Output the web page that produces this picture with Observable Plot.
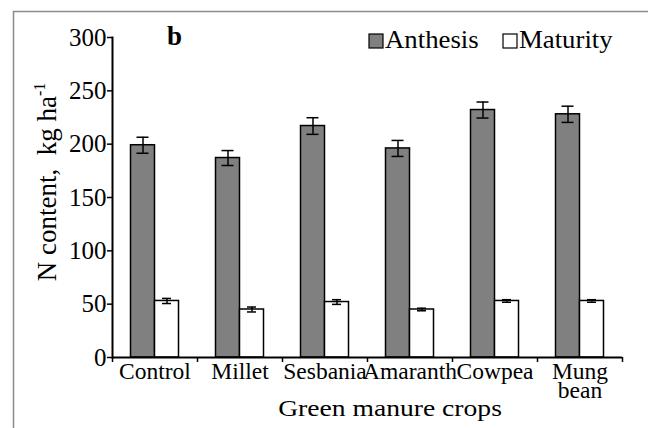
<!DOCTYPE html>
<html>
<head>
<meta charset="utf-8">
<script src="https://cdn.jsdelivr.net/npm/d3@7"></script>
<script src="https://cdn.jsdelivr.net/npm/@observablehq/plot@0.6"></script>
<style>
  html, body { margin: 0; padding: 0; background: #fff; }
  #chart { width: 648px; height: 428px; }
  #chart svg, #chart svg text, #chart svg tspan { font-family: 'Liberation Serif', serif !important; }
</style>
</head>
<body>
<div id="chart"></div>
<script>
// ---- data ----
const crops = ["Control", "Millet", "Sesbania", "Amaranth", "Cowpea", "Mung bean"];
const anthesis = [199, 187, 217, 196, 232, 228];
const anthesisErr = [7.5, 7, 7.8, 7.5, 7.5, 7.6];
const maturity = [53, 45, 52, 45, 53, 53];
const maturityErr = [2.4, 2.3, 2.2, 1.2, 1.2, 1.2];
const yTicks = [0, 50, 100, 150, 200, 250, 300];
const seriesNames = ["Anthesis", "Maturity"];

const rowsA = crops.map((c, i) => ({crop: c, value: anthesis[i], lo: anthesis[i] - anthesisErr[i], hi: anthesis[i] + anthesisErr[i]}));
const rowsM = crops.map((c, i) => ({crop: c, value: maturity[i], lo: maturity[i] - maturityErr[i], hi: maturity[i] + maturityErr[i]}));

const W = 648, H = 428;
const mL = 112, mR = 26, mT = 37, mB = 71;
const band = (W - mL - mR) / crops.length; // 85
const barW = 24, gapL = 18.5;
const aIL = gapL, aIR = band - gapL - barW;
const mIL = gapL + barW, mIR = band - gapL - 2 * barW;
const aDx = gapL + barW / 2 - band / 2;
const mDx = gapL + barW * 1.5 - band / 2;
const capA = 6, capM = 4.5;
const ff = "'Liberation Serif', serif";

const plot = Plot.plot({
  width: W, height: H,
  marginLeft: mL, marginRight: mR, marginTop: mT, marginBottom: mB,
  style: "font-family: 'Liberation Serif', serif; color: black; background: white;",
  x: {type: "band", domain: crops, paddingInner: 0, paddingOuter: 0},
  y: {domain: [0, 300]},
  marks: [
    Plot.barY(rowsA, {x: "crop", y: "value", fill: "#808080", stroke: "black", strokeWidth: 1.5, insetLeft: aIL, insetRight: aIR}),
    Plot.barY(rowsM, {x: "crop", y: "value", fill: "white", stroke: "black", strokeWidth: 1.5, insetLeft: mIL, insetRight: mIR}),
    Plot.ruleX(rowsA, {x: "crop", y1: "lo", y2: "hi", dx: aDx, stroke: "black", strokeWidth: 1.5}),
    Plot.tickY(rowsA, {x: "crop", y: "lo", stroke: "black", strokeWidth: 1.5, insetLeft: band / 2 + aDx - capA, insetRight: band / 2 - aDx - capA}),
    Plot.tickY(rowsA, {x: "crop", y: "hi", stroke: "black", strokeWidth: 1.5, insetLeft: band / 2 + aDx - capA, insetRight: band / 2 - aDx - capA}),
    Plot.ruleX(rowsM, {x: "crop", y1: "lo", y2: "hi", dx: mDx, stroke: "black", strokeWidth: 1.5}),
    Plot.tickY(rowsM, {x: "crop", y: "lo", stroke: "black", strokeWidth: 1.5, insetLeft: band / 2 + mDx - capM, insetRight: band / 2 - mDx - capM}),
    Plot.tickY(rowsM, {x: "crop", y: "hi", stroke: "black", strokeWidth: 1.5, insetLeft: band / 2 + mDx - capM, insetRight: band / 2 - mDx - capM}),
    Plot.ruleY([0], {stroke: "black", strokeWidth: 2}),
    Plot.frame({anchor: "left", stroke: "black", strokeWidth: 2}),
    Plot.ruleX(crops, {x: d => d, y1: 0, y2: 0, dx: -band / 2, insetBottom: -5, stroke: "black", strokeWidth: 1.5}),
    Plot.ruleX(crops.slice(-1), {x: d => d, y1: 0, y2: 0, dx: band / 2, insetBottom: -5, stroke: "black", strokeWidth: 1.5}),
    Plot.axisY({ticks: yTicks, tickSize: 5, tickPadding: 1, fontSize: 25, label: null, strokeWidth: 1.5}),
    Plot.axisX({tickSize: 0, tickPadding: 8, fontSize: 23.5, label: null, lineHeight: 0.82,
      tickFormat: d => d === "Mung bean" ? "Mung\nbean" : d})
  ]
});
plot.setAttribute("font-family", ff);

document.getElementById("chart").appendChild(plot);

const svg = d3.select(plot);

// outer gray border (top and left edges)
svg.append("path").attr("d", `M13.5,${H} V11.5 H${W}`).attr("fill", "none").attr("stroke", "#8c8c8c").attr("stroke-width", 1.5);

// y title
const yt = svg.append("text")
  .attr("transform", "translate(56,182) rotate(-90)")
  .attr("text-anchor", "middle").attr("font-family", ff).attr("font-size", 27).attr("fill", "black");
yt.append("tspan").text("N content,\u00a0\u00a0kg ha");
yt.append("tspan").attr("dy", -11).attr("font-size", 16).text("-1");

// x title
svg.append("text").attr("transform", "translate(390,416) scale(1.15,1)").attr("text-anchor", "middle")
  .attr("font-family", ff).attr("font-size", 24).attr("fill", "black").text("Green manure crops");

// panel letter
svg.append("text").attr("x", 167).attr("y", 45).attr("text-anchor", "start").attr("font-family", ff).attr("font-weight", "bold")
  .attr("font-size", 27).attr("fill", "black").text("b");

// legend
const leg = [{name: seriesNames[0], fill: "#808080", x: 369}, {name: seriesNames[1], fill: "white", x: 503}];
leg.forEach(l => {
  svg.append("rect").attr("x", l.x).attr("y", 34).attr("width", 14).attr("height", 14)
    .attr("fill", l.fill).attr("stroke", "black").attr("stroke-width", 1.2);
  svg.append("text").attr("transform", `translate(${l.x + 16},48) scale(1.05,1)`).attr("text-anchor", "start")
    .attr("font-family", ff).attr("font-size", 25.5).attr("fill", "black").text(l.name);
});
</script>
</body>
</html>
